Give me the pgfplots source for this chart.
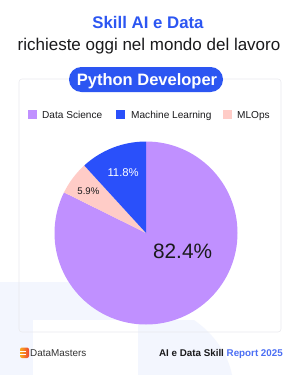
\documentclass[border=0pt]{standalone}
\usepackage{fontspec}
\setmainfont{Liberation Sans}
\usepackage{pgfplots}
\usepackage{pgfplotstable}
\pgfplotsset{compat=1.18}

\definecolor{dsPurple}{RGB}{192,144,255}
\definecolor{mlBlue}{RGB}{42,80,250}
\definecolor{opsPink}{RGB}{255,204,199}
\definecolor{brandBlue}{RGB}{44,86,242}
\definecolor{inkDark}{RGB}{26,26,28}
\definecolor{wash}{RGB}{243,246,254}
\definecolor{cardLine}{RGB}{234,234,238}
\definecolor{logoA}{RGB}{250,170,30}
\definecolor{logoB}{RGB}{236,70,50}

% share of job postings per skill area (Python Developer)
\pgfplotstableread{
share
82.4
11.8
5.9
}\skillshares

\pgfplotstablegetelem{0}{share}\of\skillshares \let\shareDS\pgfplotsretval
\pgfplotstablegetelem{1}{share}\of\skillshares \let\shareML\pgfplotsretval
\pgfplotstablegetelem{2}{share}\of\skillshares \let\shareOps\pgfplotsretval

% slices run clockwise from 12 o'clock: Data Science, MLOps, Machine Learning
\pgfmathsetmacro\total{\shareDS+\shareML+\shareOps}
\pgfmathsetmacro\degPer{360/\total}
\pgfmathsetmacro\aStart{90}
\pgfmathsetmacro\aDS{90-\degPer*\shareDS}
\pgfmathsetmacro\aOps{\aDS-\degPer*\shareOps}
\pgfmathsetmacro\aML{\aOps-\degPer*\shareML}
\pgfmathsetmacro\xDS{cos(\aDS)}
\pgfmathsetmacro\yDS{sin(\aDS)}
\pgfmathsetmacro\xOps{cos(\aOps)}
\pgfmathsetmacro\yOps{sin(\aOps)}
\def\R{91.5pt}

\begin{document}
\begin{tikzpicture}[x=1pt,y=-1pt]
  % canvas
  \fill[white] (0,0) rectangle (300,375);
  \useasboundingbox (0,0) rectangle (300,375);

  % faint brand watermark
  \fill[wash] (0,282) rectangle (138,375);
  \fill[white] (33,320) rectangle (138,375);
  \fill[wash] (138,320) -- (194,320) .. controls (214,334) and (228,354) .. (232,375) -- (138,375) -- cycle;

  % card
  \draw[cardLine, line width=0.6pt, rounded corners=3pt] (19,79) rectangle (281,332);

  % titles
  \node[anchor=base, inner sep=0, text=brandBlue, font=\bfseries\fontsize{16.8}{18}\selectfont] at (148,28) {Skill AI e Data};
  \node[anchor=base, inner sep=0, text=inkDark, font=\fontsize{17}{19}\selectfont] at (149,50.5) {richieste oggi nel mondo del lavoro};

  % pill
  \fill[brandBlue, rounded corners=12.4pt] (69,67) rectangle (223,92);
  \node[anchor=base, inner sep=0, text=white, font=\bfseries\fontsize{16.5}{18}\selectfont] at (147,85) {Python Developer};

  % legend
  \fill[dsPurple] (28,110) rectangle (37,119);
  \node[anchor=base west, inner sep=0, text=inkDark, font=\fontsize{10.1}{12}\selectfont] at (42,118.3) {Data Science};
  \fill[mlBlue] (116,110) rectangle (125,119);
  \node[anchor=base west, inner sep=0, text=inkDark, font=\fontsize{10.1}{12}\selectfont] at (131,118.3) {Machine Learning};
  \fill[opsPink] (223,110) rectangle (232,119);
  \node[anchor=base west, inner sep=0, text=inkDark, font=\fontsize{10.1}{12}\selectfont] at (237,118.3) {MLOps};

  % pie
  \begin{axis}[at={(146pt,-233pt)}, anchor=center,
      width=183pt, height=183pt, scale only axis,
      xmin=-1, xmax=1, ymin=-1, ymax=1,
      hide axis, clip=false]
    \fill[dsPurple] (axis cs:0,0) -- (axis cs:0,1)
      arc[start angle=\aStart, end angle=\aDS, radius=\R] -- cycle;
    \fill[opsPink] (axis cs:0,0) -- (axis cs:\xDS,\yDS)
      arc[start angle=\aDS, end angle=\aOps, radius=\R] -- cycle;
    \fill[mlBlue] (axis cs:0,0) -- (axis cs:\xOps,\yOps)
      arc[start angle=\aOps, end angle=\aML, radius=\R] -- cycle;
    \node[inner sep=0, text=inkDark, font=\fontsize{20.8}{22}\selectfont] at (axis cs:0.40,-0.20) {\shareDS\%};
    \node[inner sep=0, text=white, font=\fontsize{11.3}{13}\selectfont] at (axis cs:-0.25,0.665) {\shareML\%};
    \node[inner sep=0, text=inkDark, font=\fontsize{9.6}{11}\selectfont] at (axis cs:-0.63,0.46) {\shareOps\%};
  \end{axis}

  % footer logo
  \shade[left color=logoA, right color=logoB, rounded corners=2pt] (20,347.5) rectangle (29,358);
  \fill[white] (20,350.5) rectangle (25.5,351.5);
  \fill[white] (20,354) rectangle (25.5,355);
  \node[anchor=base west, inner sep=0, text=black!80, font=\fontsize{9.9}{12}\selectfont] at (30,356.3) {DataMasters};

  % footer caption
  \node[anchor=base east, inner sep=0, font=\bfseries\fontsize{9.8}{12}\selectfont] at (283,356.3)
    {\textcolor{inkDark}{AI e Data Skill} \textcolor{brandBlue!85}{Report 2025}};
\end{tikzpicture}
\end{document}
